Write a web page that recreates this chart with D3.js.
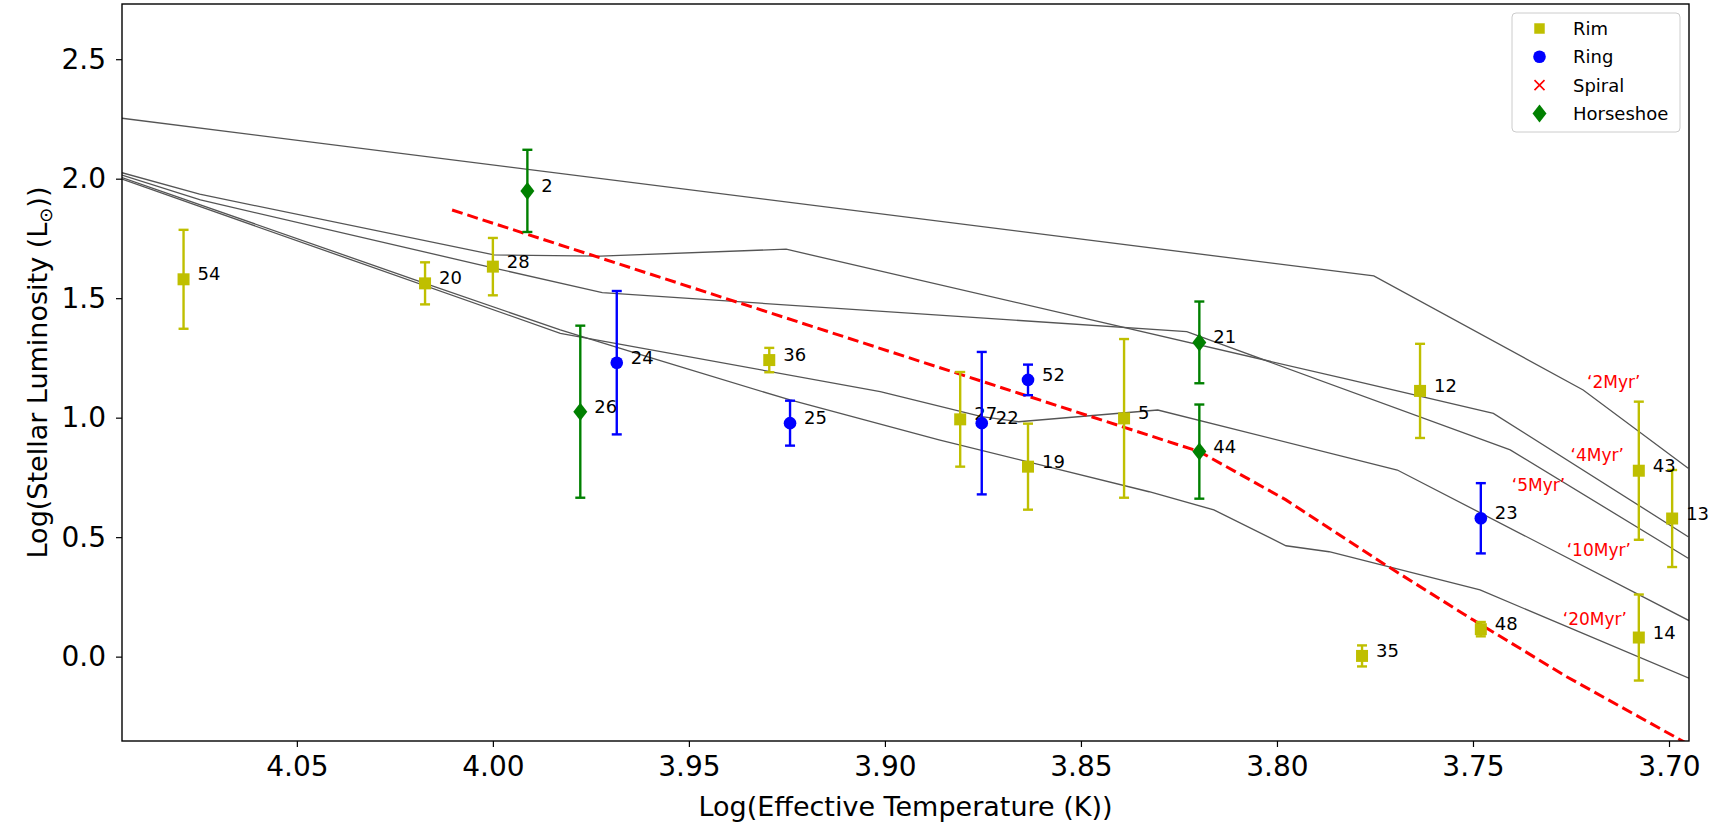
<!DOCTYPE html>
<html>
<head>
<meta charset="utf-8">
<script src="https://cdn.jsdelivr.net/npm/d3@7"></script>
<style>
  body { margin: 0; background: #fff; }
  text { font-family: "DejaVu Sans", sans-serif; }
</style>
</head>
<body>
<div id="chart"></div>
<script>
// Sterndaten: log Teff, log L, Fehler, Nummer
const rimIds = ["54", "20", "28", "36", "27", "19", "5", "12", "43", "13", "14", "48", "35"];
const rimT   = [4.0789, 4.0173, 4.0000, 3.9295, 3.8808, 3.8635, 3.8390, 3.7635, 3.7077, 3.6992, 3.7077, 3.7480, 3.7783];
const rimL   = [1.579, 1.562, 1.632, 1.241, 0.993, 0.795, 0.997, 1.112, 0.778, 0.578, 0.080, 0.115, 0.003];
const rimErr = [0.207, 0.088, 0.120, 0.051, 0.198, 0.180, 0.332, 0.197, 0.289, 0.203, 0.180, 0.030, 0.044];

const ringIds = ["24", "25", "22", "52", "23"];
const ringT   = [3.9684, 3.9242, 3.8753, 3.8635, 3.7480];
const ringL   = [1.230, 0.977, 0.977, 1.158, 0.579];
const ringErr = [0.300, 0.094, 0.298, 0.064, 0.147];

const horseIds = ["2", "26", "21", "44"];
const horseT   = [3.9912, 3.9777, 3.8198, 3.8198];
const horseL   = [1.949, 1.025, 1.315, 0.858];
const horseErr = [0.172, 0.360, 0.171, 0.197];

// Isochronen (grau)
const iso2T  = [4.0946, 3.7753, 3.7219, 3.6951];
const iso2L  = [2.253, 1.593, 1.116, 0.788];
const iso4T  = [4.0946, 4.0748, 3.9997, 3.9726, 3.9252, 3.7813, 3.7448, 3.6951];
const iso4L  = [2.025, 1.935, 1.681, 1.676, 1.705, 1.158, 1.018, 0.502];
const iso5T  = [4.0946, 4.0746, 3.9997, 3.9721, 3.8230, 3.7405, 3.6951];
const iso5L  = [2.015, 1.911, 1.626, 1.523, 1.360, 0.865, 0.412];
const iso10T = [4.0946, 3.9828, 3.9012, 3.8753, 3.8659, 3.8304, 3.7693, 3.6949];
const iso10L = [1.998, 1.353, 1.109, 1.004, 0.983, 1.032, 0.781, 0.151];
const iso20T = [4.0946, 4.0173, 3.9828, 3.9594, 3.9242, 3.8862, 3.8326, 3.8161, 3.7977, 3.7867, 3.7482, 3.6949];
const iso20L = [2.005, 1.562, 1.367, 1.249, 1.074, 0.907, 0.690, 0.614, 0.464, 0.439, 0.279, -0.090];

// Beschriftung der Isochronen
const isoLabels = ["\u20182Myr\u2019", "\u20184Myr\u2019", "\u20185Myr\u2019", "\u201810Myr\u2019", "\u201820Myr\u2019"];
const isoLabelT = [3.7209, 3.7251, 3.7401, 3.7261, 3.7271];
const isoLabelL = [1.124, 0.819, 0.693, 0.421, 0.131];

// rote gestrichelte Linie
const redT = [4.0104, 3.8198, 3.7977, 3.7730, 3.7500, 3.7261, 3.6968, 3.6900];
const redL = [1.869, 0.858, 0.656, 0.391, 0.154, -0.084, -0.351, -0.410];

const xTicks = [4.05, 4.00, 3.95, 3.90, 3.85, 3.80, 3.75, 3.70];
const yTicks = [0.0, 0.5, 1.0, 1.5, 2.0, 2.5];

const legendNames = ["Rim", "Ring", "Spiral", "Horseshoe"];

const width = 1713;
const height = 828;
const marginLeft = 122;
const marginRight = 24;
const marginTop = 4;
const marginBottom = 87;

const x = d3.scaleLinear()
  .domain([4.0946, 3.6949])
  .range([marginLeft, width - marginRight]);

const y = d3.scaleLinear()
  .domain([-0.353, 2.731])
  .range([height - marginBottom, marginTop]);

const svg = d3.select("#chart").append("svg")
  .attr("width", width)
  .attr("height", height)
  .attr("viewBox", [0, 0, width, height]);

svg.append("clipPath").attr("id", "plotclip")
  .append("rect")
  .attr("x", marginLeft).attr("y", marginTop)
  .attr("width", width - marginRight - marginLeft)
  .attr("height", height - marginBottom - marginTop);

const plot = svg.append("g").attr("clip-path", "url(#plotclip)");

const line = d3.line().x(d => x(d[0])).y(d => y(d[1]));
const zip = (a, b) => a.map((v, i) => [v, b[i]]);

// Isochronen
[[iso2T, iso2L], [iso4T, iso4L], [iso5T, iso5L], [iso10T, iso10L], [iso20T, iso20L]].forEach(([t, l]) => {
  plot.append("path")
    .attr("d", line(zip(t, l)))
    .attr("fill", "none")
    .attr("stroke", "#555")
    .attr("stroke-width", 1.3);
});

plot.append("path")
  .attr("d", line(zip(redT, redL)))
  .attr("fill", "none")
  .attr("stroke", "#ff0000")
  .attr("stroke-width", 3)
  .attr("stroke-dasharray", "11,5");

// Isochronen-Beschriftung
svg.append("g")
  .selectAll("text")
  .data(isoLabels)
  .join("text")
  .attr("x", (d, i) => x(isoLabelT[i]))
  .attr("y", (d, i) => y(isoLabelL[i]))
  .attr("fill", "#ff0000")
  .attr("font-size", 17)
  .text(d => d);

// Marker-Symbole
const symSquare = d3.symbol().type(d3.symbolSquare).size(144);
const symCircle = d3.symbol().type(d3.symbolCircle).size(125);
const diamond = "M0,-9L7,0L0,9L-7,0Z";

function drawGroup(ids, t, l, err, color, shape) {
  const data = ids.map((id, i) => ({ id, t: t[i], l: l[i], e: err[i] }));
  const g = svg.append("g");
  // Fehlerbalken
  const eb = g.selectAll("g.eb").data(data).join("g")
    .attr("stroke", color).attr("stroke-width", 2.4);
  eb.append("line")
    .attr("x1", d => x(d.t)).attr("x2", d => x(d.t))
    .attr("y1", d => y(d.l - d.e)).attr("y2", d => y(d.l + d.e));
  eb.append("line")
    .attr("x1", d => x(d.t) - 5).attr("x2", d => x(d.t) + 5)
    .attr("y1", d => y(d.l + d.e)).attr("y2", d => y(d.l + d.e));
  eb.append("line")
    .attr("x1", d => x(d.t) - 5).attr("x2", d => x(d.t) + 5)
    .attr("y1", d => y(d.l - d.e)).attr("y2", d => y(d.l - d.e));
  // Marker
  g.selectAll("path.m").data(data).join("path")
    .attr("d", shape)
    .attr("transform", d => `translate(${x(d.t)},${y(d.l)})`)
    .attr("fill", color);
  // Nummern
  g.selectAll("text").data(data).join("text")
    .attr("x", d => x(d.t) + 14)
    .attr("y", d => y(d.l) + 1)
    .attr("font-size", 18)
    .attr("fill", "#000")
    .text(d => d.id);
}

drawGroup(rimIds, rimT, rimL, rimErr, "#bfbf00", symSquare());
drawGroup(ringIds, ringT, ringL, ringErr, "#0000ff", symCircle());
drawGroup(horseIds, horseT, horseL, horseErr, "#008000", diamond);

// Achsen
svg.append("g")
  .attr("transform", `translate(0,${height - marginBottom})`)
  .call(d3.axisBottom(x).tickValues(xTicks).tickFormat(d3.format(".2f")).tickSize(6).tickPadding(9))
  .call(g => g.select(".domain").remove())
  .call(g => g.selectAll("text").attr("font-size", 28).attr("fill", "#000").attr("font-family", "DejaVu Sans"))
  .call(g => g.selectAll("line").attr("stroke", "#000").attr("stroke-width", 1.2));

svg.append("g")
  .attr("transform", `translate(${marginLeft},0)`)
  .call(d3.axisLeft(y).tickValues(yTicks).tickFormat(d3.format(".1f")).tickSize(6).tickPadding(10))
  .call(g => g.select(".domain").remove())
  .call(g => g.selectAll("text").attr("font-size", 28).attr("fill", "#000").attr("font-family", "DejaVu Sans"))
  .call(g => g.selectAll("line").attr("stroke", "#000").attr("stroke-width", 1.2));

// Rahmen
svg.append("rect")
  .attr("x", marginLeft).attr("y", marginTop)
  .attr("width", width - marginRight - marginLeft)
  .attr("height", height - marginBottom - marginTop)
  .attr("fill", "none")
  .attr("stroke", "#000")
  .attr("stroke-width", 1.4);

// Achsentitel
svg.append("text")
  .attr("x", (marginLeft + width - marginRight) / 2)
  .attr("y", 816)
  .attr("text-anchor", "middle")
  .attr("font-size", 27)
  .text("Log(Effective Temperature (K))");

const yl = svg.append("text")
  .attr("transform", `translate(47,${(marginTop + height - marginBottom) / 2}) rotate(-90)`)
  .attr("text-anchor", "middle")
  .attr("font-size", 27);
yl.append("tspan").text("Log(Stellar Luminosity (L");
yl.append("tspan").attr("font-size", 18).attr("dy", 5).text("\u2299");
yl.append("tspan").attr("dy", -5).text("))");

// Legende
const legend = svg.append("g");
legend.append("rect")
  .attr("x", 1512).attr("y", 13)
  .attr("width", 168).attr("height", 119)
  .attr("rx", 4)
  .attr("fill", "#fff").attr("fill-opacity", 0.8)
  .attr("stroke", "#ccc");

const legendColors = ["#bfbf00", "#0000ff", "#ff0000", "#008000"];
const legendShapes = [d3.symbol().type(d3.symbolSquare).size(110)(), d3.symbol().type(d3.symbolCircle).size(125)(),
  "M-5,-5L5,5M-5,5L5,-5", diamond];
legendNames.forEach((name, i) => {
  const cy = 28.5 + i * 28.3;
  legend.append("path")
    .attr("d", legendShapes[i])
    .attr("transform", `translate(1539.5,${cy})`)
    .attr("fill", i === 2 ? "none" : legendColors[i])
    .attr("stroke", i === 2 ? legendColors[i] : "none")
    .attr("stroke-width", 1.6);
  legend.append("text")
    .attr("x", 1573)
    .attr("y", cy + 6.5)
    .attr("font-size", 18)
    .text(name);
});
</script>
</body>
</html>
